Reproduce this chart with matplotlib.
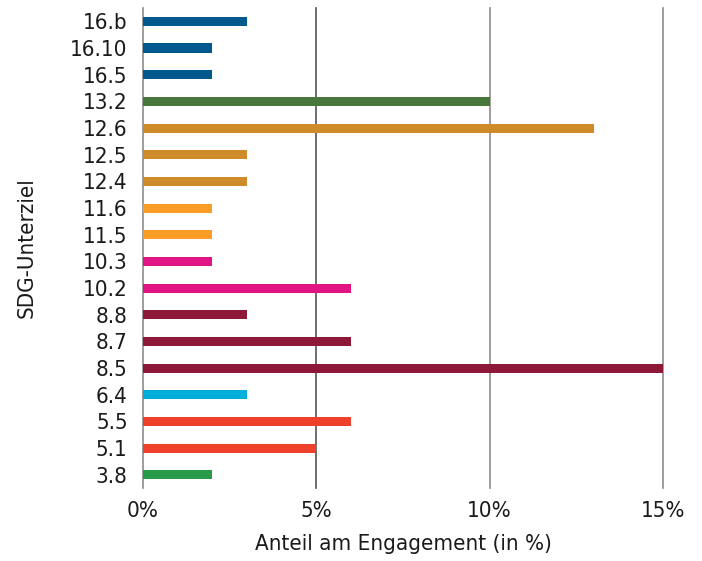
import matplotlib.pyplot as plt
from matplotlib.ticker import FuncFormatter

plt.rcParams['font.family'] = ['DejaVu Sans']
plt.rcParams['font.stretch'] = 'condensed'

# SDG targets, top to bottom as shown
targets = ['16.b', '16.10', '16.5', '13.2', '12.6', '12.5', '12.4', '11.6', '11.5',
           '10.3', '10.2', '8.8', '8.7', '8.5', '6.4', '5.5', '5.1', '3.8']
shares = [3, 2, 2, 10, 13, 3, 3, 2, 2, 2, 6, 3, 6, 15, 3, 6, 5, 2]

goal_colors = {
    '16': '#00598c', '13': '#48773c', '12': '#cf8a2a', '11': '#f99d26',
    '10': '#e01483', '8': '#8e1838', '6': '#00aed9', '5': '#ef402b', '3': '#279b48',
}
colors = [goal_colors[t.split('.')[0]] for t in targets]

fig = plt.figure(figsize=(7.02, 5.61), dpi=100)
ax = fig.add_axes([0.2037, 0.130, 0.7407, 0.8557])

pos = list(range(len(targets)))[::-1]
ax.barh(pos, shares, height=0.34, color=colors, zorder=3)

ax.set_xlim(0, 15)
ax.set_ylim(-0.5, len(targets) - 0.5)
ax.set_xticks([0, 5, 10, 15])
ax.xaxis.set_major_formatter(FuncFormatter(lambda v, _: f'{v:.0f}%'))
ax.set_yticks(pos)
ax.set_yticklabels(targets)

for x, c in [(5, '#555555'), (10, '#8c8c8c'), (15, '#8c8c8c')]:
    ax.axvline(x, color=c, linewidth=1.2, zorder=1, clip_on=False)

for s in ['top', 'right', 'bottom']:
    ax.spines[s].set_visible(False)
ax.spines['left'].set_color('#8c8c8c')
ax.spines['left'].set_linewidth(1.2)

ax.tick_params(axis='both', length=0, labelsize=16, colors='#1a1a1a')
ax.tick_params(axis='x', pad=9)
ax.tick_params(axis='y', pad=11)

ax.set_xlabel('Anteil am Engagement (in %)', fontsize=16, color='#1a1a1a', labelpad=10)
ax.set_ylabel('SDG-Unterziel', fontsize=16, color='#1a1a1a', labelpad=24)

fig.savefig('out.png', dpi=100)
